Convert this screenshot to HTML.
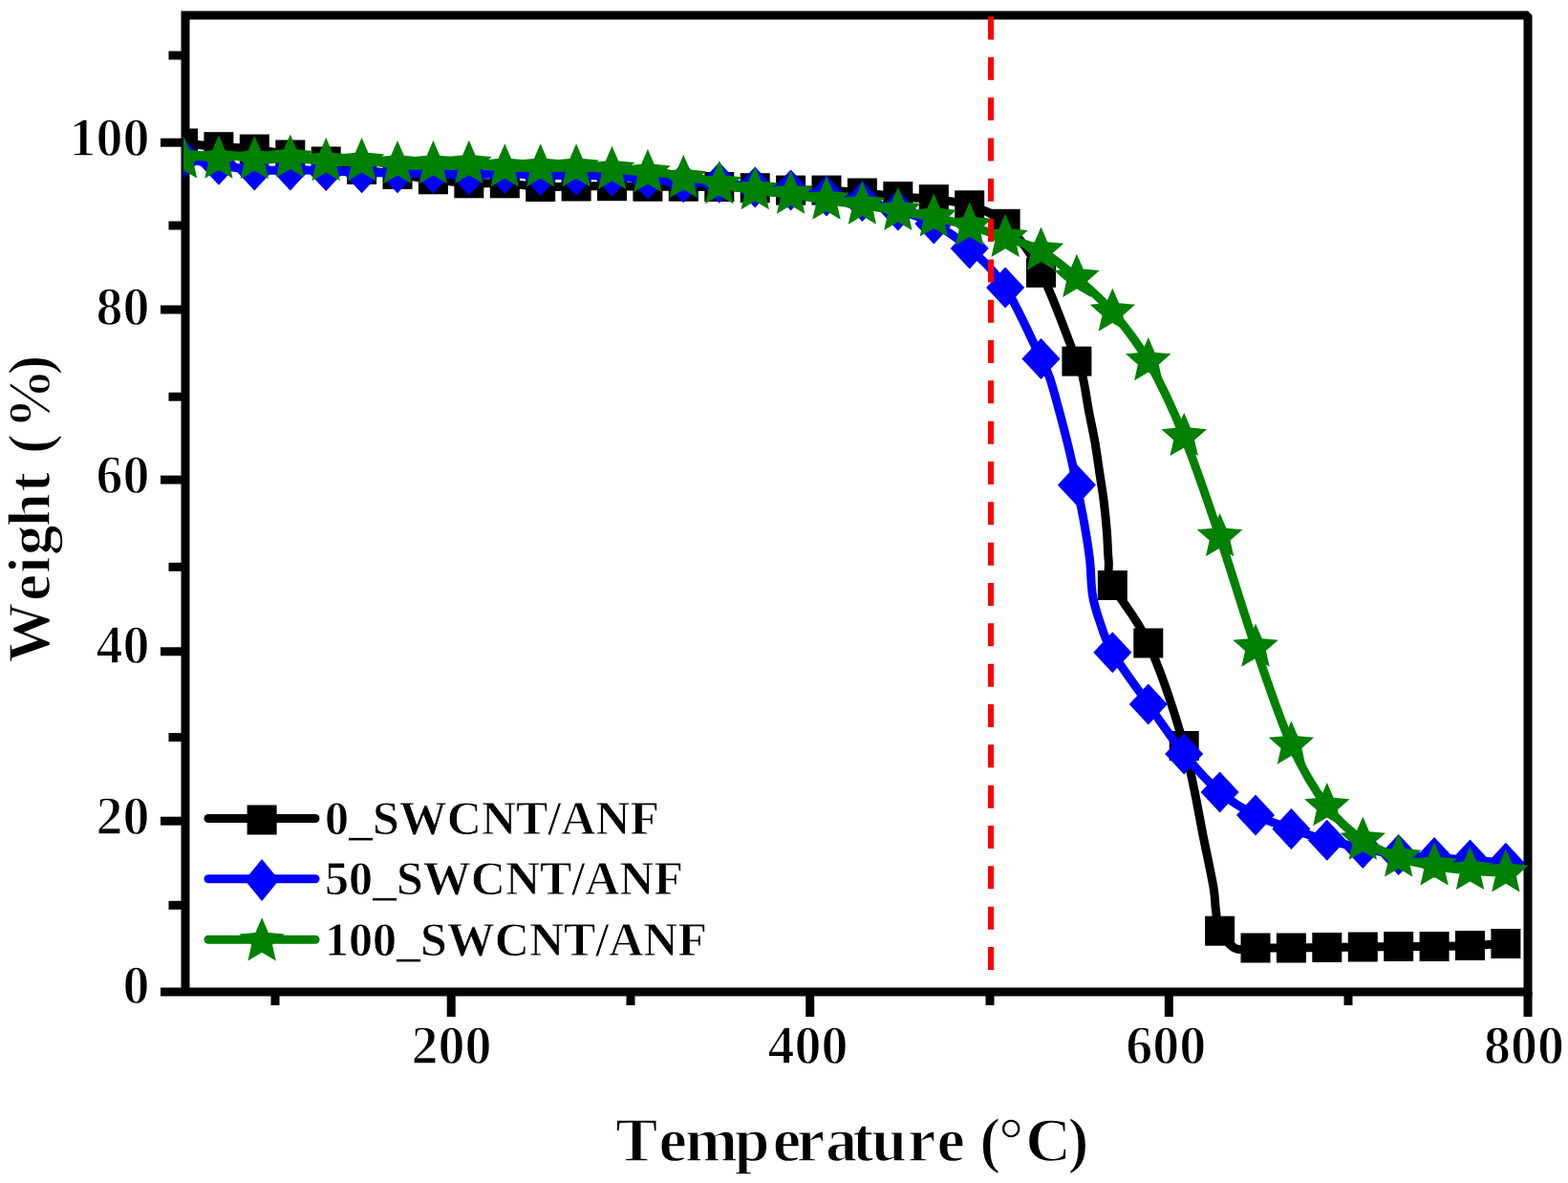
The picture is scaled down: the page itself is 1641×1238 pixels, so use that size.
<!DOCTYPE html><html><head><meta charset="utf-8"><style>html,body{margin:0;padding:0;background:#fff;}svg{display:block;}text{font-family:"Liberation Serif","Times New Roman",serif;font-weight:bold;fill:#000;stroke:#fff;stroke-width:1.4px;paint-order:fill;}</style></head><body>
<svg width="1641" height="1238" viewBox="0 0 1641 1238">
<rect width="1641" height="1238" fill="#fff"/>
<defs><clipPath id="pc"><rect x="192" y="0" width="1407" height="1238"/></clipPath></defs>
<g stroke="#000" stroke-width="9" fill="none"><line x1="168.0" y1="1038.0" x2="194" y2="1038.0"/><line x1="176.5" y1="947.3" x2="194" y2="947.3"/><line x1="168.0" y1="859.2" x2="194" y2="859.2"/><line x1="176.5" y1="771.6" x2="194" y2="771.6"/><line x1="168.0" y1="681.8" x2="194" y2="681.8"/><line x1="176.5" y1="593.3" x2="194" y2="593.3"/><line x1="168.0" y1="502.1" x2="194" y2="502.1"/><line x1="176.5" y1="415.2" x2="194" y2="415.2"/><line x1="168.0" y1="324.0" x2="194" y2="324.0"/><line x1="176.5" y1="236.0" x2="194" y2="236.0"/><line x1="168.0" y1="149.2" x2="194" y2="149.2"/><line x1="176.5" y1="58.0" x2="194" y2="58.0"/><line x1="288.0" y1="1038" x2="288.0" y2="1052.0"/><line x1="472.2" y1="1038" x2="472.2" y2="1064.0"/><line x1="660.0" y1="1038" x2="660.0" y2="1052.0"/><line x1="847.7" y1="1038" x2="847.7" y2="1064.0"/><line x1="1036.0" y1="1038" x2="1036.0" y2="1052.0"/><line x1="1223.3" y1="1038" x2="1223.3" y2="1064.0"/><line x1="1411.0" y1="1038" x2="1411.0" y2="1052.0"/><line x1="1599.0" y1="1038" x2="1599.0" y2="1064.0"/></g>
<path d="M194,1038 L194,16 L1599,16 M1599,16 L1599,1038 L194,1038" fill="none" stroke="#000" stroke-width="9" stroke-linejoin="miter"/>
<polygon points="1599,11.5 1603.5,16 1599,16" fill="#000"/>
<g clip-path="url(#pc)">
<path d="M191.5,150.0 C197.7,150.6 216.4,152.7 228.9,153.7 C241.4,154.7 253.9,154.7 266.3,156.1 C278.8,157.5 291.3,159.8 303.8,162.0 C316.2,164.2 328.7,166.4 341.2,169.0 C353.6,171.6 366.1,175.2 378.6,177.4 C391.1,179.7 403.5,180.8 416.0,182.5 C428.5,184.2 440.9,186.2 453.4,187.8 C465.9,189.4 478.4,191.1 490.8,191.8 C503.3,192.5 515.8,191.2 528.3,191.8 C540.7,192.4 553.2,195.0 565.7,195.5 C578.1,196.0 590.6,195.1 603.1,195.0 C615.6,194.9 628.0,194.7 640.5,194.7 C653.0,194.7 665.4,195.1 677.9,195.2 C690.4,195.3 702.9,195.1 715.3,195.2 C727.8,195.2 740.3,195.2 752.8,195.5 C765.2,195.8 777.7,196.1 790.2,196.7 C802.6,197.3 815.1,198.7 827.6,199.1 C840.1,199.5 852.5,198.6 865.0,199.1 C877.5,199.6 890.0,200.9 902.4,202.0 C914.9,203.1 927.4,204.5 939.8,205.6 C952.3,206.7 964.8,207.2 977.3,208.7 C989.7,210.2 1002.2,210.5 1014.7,214.8 C1027.1,219.1 1039.6,222.6 1052.1,234.3 C1064.6,246.1 1077.0,261.3 1089.5,285.3 C1102.0,309.3 1119.6,359.7 1126.9,378.1 C1134.3,396.6 1131.5,387.6 1133.5,396.0 C1135.5,404.4 1137.2,417.7 1139.2,428.5 C1141.2,439.3 1143.7,450.1 1145.6,460.8 C1147.5,471.6 1148.9,482.2 1150.5,493.0 C1152.1,503.8 1154.0,514.6 1155.3,525.4 C1156.6,536.2 1157.7,547.5 1158.5,557.7 C1159.3,567.9 1159.2,577.5 1160.2,586.6 C1161.2,595.7 1157.4,598.1 1164.3,612.5 C1171.3,626.9 1189.3,645.0 1201.8,673.0 C1214.2,701.0 1229.4,746.0 1239.2,780.5 C1248.9,815.0 1255.1,855.3 1260.2,880.0 C1265.3,904.7 1268.0,916.6 1270.0,928.8 C1272.0,941.0 1271.4,945.4 1272.5,953.0 C1273.6,960.6 1273.2,967.6 1276.6,974.2 C1280.0,980.8 1286.8,989.5 1293.0,992.5 C1299.2,995.5 1304.3,992.1 1314.0,992.0 C1323.7,991.9 1339.0,992.1 1351.4,992.0 C1363.9,991.9 1376.4,991.7 1388.8,991.5 C1401.3,991.3 1413.8,991.2 1426.3,991.0 C1438.7,990.8 1451.2,990.6 1463.7,990.5 C1476.2,990.4 1488.6,990.7 1501.1,990.5 C1513.6,990.3 1526.0,990.0 1538.5,989.5 C1551.0,989.0 1569.7,987.8 1575.9,987.5" fill="none" stroke="#000" stroke-width="9" stroke-linejoin="round"/>
<g fill="#000"><rect x="176.0" y="134.5" width="31.0" height="31.0"/><rect x="213.4" y="138.2" width="31.0" height="31.0"/><rect x="250.8" y="140.6" width="31.0" height="31.0"/><rect x="288.3" y="146.5" width="31.0" height="31.0"/><rect x="325.7" y="153.5" width="31.0" height="31.0"/><rect x="363.1" y="161.9" width="31.0" height="31.0"/><rect x="400.5" y="167.0" width="31.0" height="31.0"/><rect x="437.9" y="172.3" width="31.0" height="31.0"/><rect x="475.3" y="176.3" width="31.0" height="31.0"/><rect x="512.8" y="176.3" width="31.0" height="31.0"/><rect x="550.2" y="180.0" width="31.0" height="31.0"/><rect x="587.6" y="179.5" width="31.0" height="31.0"/><rect x="625.0" y="179.2" width="31.0" height="31.0"/><rect x="662.4" y="179.7" width="31.0" height="31.0"/><rect x="699.8" y="179.7" width="31.0" height="31.0"/><rect x="737.3" y="180.0" width="31.0" height="31.0"/><rect x="774.7" y="181.2" width="31.0" height="31.0"/><rect x="812.1" y="183.6" width="31.0" height="31.0"/><rect x="849.5" y="183.6" width="31.0" height="31.0"/><rect x="886.9" y="186.5" width="31.0" height="31.0"/><rect x="924.3" y="190.1" width="31.0" height="31.0"/><rect x="961.8" y="193.2" width="31.0" height="31.0"/><rect x="999.2" y="199.3" width="31.0" height="31.0"/><rect x="1036.6" y="218.8" width="31.0" height="31.0"/><rect x="1074.0" y="269.8" width="31.0" height="31.0"/><rect x="1111.4" y="362.6" width="31.0" height="31.0"/><rect x="1148.8" y="597.0" width="31.0" height="31.0"/><rect x="1186.3" y="657.5" width="31.0" height="31.0"/><rect x="1223.7" y="765.0" width="31.0" height="31.0"/><rect x="1261.1" y="958.7" width="31.0" height="31.0"/><rect x="1298.5" y="976.5" width="31.0" height="31.0"/><rect x="1335.9" y="976.5" width="31.0" height="31.0"/><rect x="1373.3" y="976.0" width="31.0" height="31.0"/><rect x="1410.8" y="975.5" width="31.0" height="31.0"/><rect x="1448.2" y="975.0" width="31.0" height="31.0"/><rect x="1485.6" y="975.0" width="31.0" height="31.0"/><rect x="1523.0" y="974.0" width="31.0" height="31.0"/><rect x="1560.4" y="972.0" width="31.0" height="31.0"/></g>

<path d="M191.5,165.5 C197.7,166.6 216.4,170.2 228.9,172.3 C241.4,174.4 253.9,177.1 266.3,178.0 C278.8,178.9 291.3,177.9 303.8,178.0 C316.2,178.1 328.7,178.0 341.2,178.4 C353.6,178.8 366.1,180.3 378.6,180.7 C391.1,181.1 403.5,180.6 416.0,180.7 C428.5,180.8 440.9,180.8 453.4,181.2 C465.9,181.6 478.4,182.9 490.8,183.0 C503.3,183.1 515.8,181.4 528.3,181.5 C540.7,181.6 553.2,183.2 565.7,183.5 C578.1,183.8 590.6,183.3 603.1,183.4 C615.6,183.5 628.0,183.7 640.5,184.3 C653.0,185.0 665.4,186.2 677.9,187.3 C690.4,188.4 702.9,190.0 715.3,190.7 C727.8,191.3 740.3,190.3 752.8,191.2 C765.2,192.1 777.7,194.7 790.2,196.0 C802.6,197.3 815.1,197.5 827.6,199.0 C840.1,200.5 852.5,203.1 865.0,205.0 C877.5,206.9 890.0,208.0 902.4,210.5 C914.9,213.0 927.4,216.1 939.8,220.0 C952.3,223.9 964.8,227.3 977.3,234.0 C989.7,240.7 1002.2,248.8 1014.7,260.0 C1027.1,271.2 1039.6,281.8 1052.1,301.0 C1064.6,320.2 1081.7,359.6 1089.5,375.4 C1097.3,391.2 1095.7,387.1 1098.8,396.0 C1101.9,404.9 1105.1,417.7 1108.1,428.5 C1111.0,439.3 1114.2,451.4 1116.5,460.8 C1118.8,470.2 1120.5,477.2 1122.2,485.0 C1123.9,492.8 1124.7,496.6 1126.9,507.6 C1129.1,518.6 1133.0,537.8 1135.3,551.0 C1137.6,564.2 1139.3,574.8 1140.6,586.6 C1141.9,598.4 1141.7,611.6 1143.3,622.0 C1144.9,632.4 1146.9,638.6 1150.4,648.7 C1153.9,658.8 1155.8,668.1 1164.3,682.8 C1172.9,697.5 1189.3,719.2 1201.8,736.9 C1214.2,754.6 1226.7,773.6 1239.2,788.9 C1251.6,804.2 1264.1,818.2 1276.6,828.9 C1289.1,839.6 1301.5,846.7 1314.0,853.1 C1326.5,859.5 1339.0,863.1 1351.4,867.5 C1363.9,871.9 1376.4,875.9 1388.8,879.2 C1401.3,882.5 1413.8,885.0 1426.3,887.5 C1438.7,890.0 1451.2,892.8 1463.7,894.5 C1476.2,896.2 1488.6,896.7 1501.1,897.6 C1513.6,898.5 1526.0,899.1 1538.5,900.0 C1551.0,900.9 1569.7,902.7 1575.9,903.2" fill="none" stroke="#0000ff" stroke-width="9" stroke-linejoin="round"/>
<g fill="#0000ff"><path d="M191.5,144.0L211.5,165.5L191.5,187.0L171.5,165.5Z"/><path d="M228.9,150.8L248.9,172.3L228.9,193.8L208.9,172.3Z"/><path d="M266.3,156.5L286.3,178.0L266.3,199.5L246.3,178.0Z"/><path d="M303.8,156.5L323.8,178.0L303.8,199.5L283.8,178.0Z"/><path d="M341.2,156.9L361.2,178.4L341.2,199.9L321.2,178.4Z"/><path d="M378.6,159.2L398.6,180.7L378.6,202.2L358.6,180.7Z"/><path d="M416.0,159.2L436.0,180.7L416.0,202.2L396.0,180.7Z"/><path d="M453.4,159.7L473.4,181.2L453.4,202.7L433.4,181.2Z"/><path d="M490.8,161.5L510.8,183.0L490.8,204.5L470.8,183.0Z"/><path d="M528.3,160.0L548.3,181.5L528.3,203.0L508.3,181.5Z"/><path d="M565.7,162.0L585.7,183.5L565.7,205.0L545.7,183.5Z"/><path d="M603.1,161.9L623.1,183.4L603.1,204.9L583.1,183.4Z"/><path d="M640.5,162.8L660.5,184.3L640.5,205.8L620.5,184.3Z"/><path d="M677.9,165.8L697.9,187.3L677.9,208.8L657.9,187.3Z"/><path d="M715.3,169.2L735.3,190.7L715.3,212.2L695.3,190.7Z"/><path d="M752.8,169.7L772.8,191.2L752.8,212.7L732.8,191.2Z"/><path d="M790.2,174.5L810.2,196.0L790.2,217.5L770.2,196.0Z"/><path d="M827.6,177.5L847.6,199.0L827.6,220.5L807.6,199.0Z"/><path d="M865.0,183.5L885.0,205.0L865.0,226.5L845.0,205.0Z"/><path d="M902.4,189.0L922.4,210.5L902.4,232.0L882.4,210.5Z"/><path d="M939.8,198.5L959.8,220.0L939.8,241.5L919.8,220.0Z"/><path d="M977.3,212.5L997.3,234.0L977.3,255.5L957.3,234.0Z"/><path d="M1014.7,238.5L1034.7,260.0L1014.7,281.5L994.7,260.0Z"/><path d="M1052.1,279.5L1072.1,301.0L1052.1,322.5L1032.1,301.0Z"/><path d="M1089.5,353.9L1109.5,375.4L1089.5,396.9L1069.5,375.4Z"/><path d="M1126.9,486.1L1146.9,507.6L1126.9,529.1L1106.9,507.6Z"/><path d="M1164.3,661.3L1184.3,682.8L1164.3,704.3L1144.3,682.8Z"/><path d="M1201.8,715.4L1221.8,736.9L1201.8,758.4L1181.8,736.9Z"/><path d="M1239.2,767.4L1259.2,788.9L1239.2,810.4L1219.2,788.9Z"/><path d="M1276.6,807.4L1296.6,828.9L1276.6,850.4L1256.6,828.9Z"/><path d="M1314.0,831.6L1334.0,853.1L1314.0,874.6L1294.0,853.1Z"/><path d="M1351.4,846.0L1371.4,867.5L1351.4,889.0L1331.4,867.5Z"/><path d="M1388.8,857.7L1408.8,879.2L1388.8,900.7L1368.8,879.2Z"/><path d="M1426.3,866.0L1446.3,887.5L1426.3,909.0L1406.3,887.5Z"/><path d="M1463.7,873.0L1483.7,894.5L1463.7,916.0L1443.7,894.5Z"/><path d="M1501.1,876.1L1521.1,897.6L1501.1,919.1L1481.1,897.6Z"/><path d="M1538.5,878.5L1558.5,900.0L1538.5,921.5L1518.5,900.0Z"/><path d="M1575.9,881.7L1595.9,903.2L1575.9,924.7L1555.9,903.2Z"/></g>

<path d="M191.5,166.4 C194.6,165.9 204.0,163.4 210.2,163.4 C216.4,163.4 222.7,166.6 228.9,166.6 C235.2,166.6 241.4,163.3 247.6,163.4 C253.9,163.5 260.1,166.6 266.3,167.1 C272.6,167.6 278.8,166.8 285.0,166.5 C291.3,166.2 297.5,165.5 303.8,165.6 C310.0,165.7 316.2,166.2 322.5,166.8 C328.7,167.4 334.9,168.7 341.2,169.1 C347.4,169.5 353.6,169.4 359.9,169.4 C366.1,169.4 372.3,169.0 378.6,169.1 C384.8,169.2 391.0,169.4 397.3,169.9 C403.5,170.4 409.8,171.5 416.0,172.1 C422.2,172.7 428.5,173.3 434.7,173.3 C440.9,173.3 447.2,172.1 453.4,172.1 C459.7,172.1 465.9,173.4 472.1,173.4 C478.4,173.4 484.6,171.8 490.8,171.8 C497.1,171.8 503.3,172.9 509.5,173.5 C515.8,174.1 522.0,174.9 528.3,175.2 C534.5,175.5 540.7,175.5 547.0,175.5 C553.2,175.5 559.4,175.2 565.7,175.2 C571.9,175.2 578.1,175.5 584.4,175.5 C590.6,175.5 596.9,175.2 603.1,175.2 C609.3,175.2 615.6,175.1 621.8,175.5 C628.0,175.9 634.3,177.2 640.5,177.7 C646.7,178.2 653.0,177.8 659.2,178.4 C665.4,179.0 671.7,180.6 677.9,181.1 C684.2,181.6 690.4,180.3 696.6,181.3 C702.9,182.3 709.1,185.9 715.3,186.9 C721.6,187.9 727.8,186.2 734.0,187.2 C740.3,188.2 743.4,191.0 752.8,193.0 C762.1,195.0 777.7,197.2 790.2,199.0 C802.6,200.8 815.1,201.8 827.6,203.5 C840.1,205.2 852.5,207.7 865.0,209.5 C877.5,211.3 890.0,212.7 902.4,214.6 C914.9,216.5 927.4,218.6 939.8,220.7 C952.3,222.8 964.8,224.8 977.3,227.4 C989.7,230.0 1002.2,232.9 1014.7,236.5 C1027.1,240.1 1039.6,244.4 1052.1,248.7 C1064.6,253.0 1077.0,255.5 1089.5,262.5 C1102.0,269.5 1114.5,280.1 1126.9,290.8 C1139.4,301.5 1151.9,312.0 1164.3,326.5 C1176.8,341.0 1189.3,356.3 1201.8,378.0 C1214.2,399.7 1226.7,426.2 1239.2,456.9 C1251.6,487.6 1264.1,525.2 1276.6,562.0 C1289.1,598.8 1301.5,641.2 1314.0,677.5 C1326.5,713.8 1339.0,751.8 1351.4,779.5 C1363.9,807.2 1376.4,827.3 1388.8,844.0 C1401.3,860.7 1413.8,870.6 1426.3,879.5 C1438.7,888.4 1451.2,892.9 1463.7,897.4 C1476.2,901.9 1488.6,904.0 1501.1,906.2 C1513.6,908.5 1526.0,909.7 1538.5,910.9 C1551.0,912.1 1569.7,912.9 1575.9,913.3" fill="none" stroke="#008000" stroke-width="9" stroke-linejoin="round"/>
<g fill="#008000"><polygon points="191.5,141.4 198.3,157.1 215.3,158.7 202.4,170.0 206.2,186.6 191.5,177.9 176.8,186.6 180.6,170.0 167.7,158.7 184.7,157.1"/><polygon points="228.9,141.6 235.7,157.3 252.7,158.9 239.9,170.2 243.6,186.8 228.9,178.1 214.2,186.8 218.0,170.2 205.1,158.9 222.2,157.3"/><polygon points="266.3,142.1 273.1,157.8 290.1,159.4 277.3,170.7 281.0,187.3 266.3,178.6 251.6,187.3 255.4,170.7 242.6,159.4 259.6,157.8"/><polygon points="303.8,140.6 310.5,156.3 327.5,157.9 314.7,169.2 318.4,185.8 303.8,177.1 289.1,185.8 292.8,169.2 280.0,157.9 297.0,156.3"/><polygon points="341.2,144.1 347.9,159.8 364.9,161.4 352.1,172.7 355.9,189.3 341.2,180.6 326.5,189.3 330.2,172.7 317.4,161.4 334.4,159.8"/><polygon points="378.6,144.1 385.3,159.8 402.4,161.4 389.5,172.7 393.3,189.3 378.6,180.6 363.9,189.3 367.6,172.7 354.8,161.4 371.8,159.8"/><polygon points="416.0,147.1 422.8,162.8 439.8,164.4 426.9,175.7 430.7,192.3 416.0,183.6 401.3,192.3 405.1,175.7 392.2,164.4 409.2,162.8"/><polygon points="453.4,147.1 460.2,162.8 477.2,164.4 464.4,175.7 468.1,192.3 453.4,183.6 438.7,192.3 442.5,175.7 429.6,164.4 446.7,162.8"/><polygon points="490.8,146.8 497.6,162.5 514.6,164.1 501.8,175.4 505.5,192.0 490.8,183.3 476.1,192.0 479.9,175.4 467.1,164.1 484.1,162.5"/><polygon points="528.3,150.2 535.0,165.9 552.0,167.5 539.2,178.8 542.9,195.4 528.3,186.7 513.6,195.4 517.3,178.8 504.5,167.5 521.5,165.9"/><polygon points="565.7,150.2 572.4,165.9 589.4,167.5 576.6,178.8 580.4,195.4 565.7,186.7 551.0,195.4 554.7,178.8 541.9,167.5 558.9,165.9"/><polygon points="603.1,150.2 609.8,165.9 626.9,167.5 614.0,178.8 617.8,195.4 603.1,186.7 588.4,195.4 592.1,178.8 579.3,167.5 596.3,165.9"/><polygon points="640.5,152.7 647.3,168.4 664.3,170.0 651.4,181.3 655.2,197.9 640.5,189.2 625.8,197.9 629.6,181.3 616.7,170.0 633.7,168.4"/><polygon points="677.9,156.1 684.7,171.8 701.7,173.4 688.9,184.7 692.6,201.3 677.9,192.6 663.2,201.3 667.0,184.7 654.1,173.4 671.2,171.8"/><polygon points="715.3,161.9 722.1,177.6 739.1,179.2 726.3,190.5 730.0,207.1 715.3,198.4 700.6,207.1 704.4,190.5 691.6,179.2 708.6,177.6"/><polygon points="752.8,168.0 759.5,183.7 776.5,185.3 763.7,196.6 767.4,213.2 752.8,204.5 738.1,213.2 741.8,196.6 729.0,185.3 746.0,183.7"/><polygon points="790.2,174.0 796.9,189.7 813.9,191.3 801.1,202.6 804.9,219.2 790.2,210.5 775.5,219.2 779.2,202.6 766.4,191.3 783.4,189.7"/><polygon points="827.6,178.5 834.3,194.2 851.4,195.8 838.5,207.1 842.3,223.7 827.6,215.0 812.9,223.7 816.7,207.1 803.8,195.8 820.8,194.2"/><polygon points="865.0,184.5 871.8,200.2 888.8,201.8 875.9,213.1 879.7,229.7 865.0,221.0 850.3,229.7 854.1,213.1 841.2,201.8 858.2,200.2"/><polygon points="902.4,189.6 909.2,205.3 926.2,206.9 913.4,218.2 917.1,234.8 902.4,226.1 887.7,234.8 891.5,218.2 878.6,206.9 895.7,205.3"/><polygon points="939.8,195.7 946.6,211.4 963.6,213.0 950.8,224.3 954.5,240.9 939.8,232.2 925.1,240.9 928.9,224.3 916.1,213.0 933.1,211.4"/><polygon points="977.3,202.4 984.0,218.1 1001.0,219.7 988.2,231.0 992.0,247.6 977.3,238.9 962.6,247.6 966.3,231.0 953.5,219.7 970.5,218.1"/><polygon points="1014.7,211.5 1021.4,227.2 1038.5,228.8 1025.6,240.1 1029.4,256.7 1014.7,248.0 1000.0,256.7 1003.7,240.1 990.9,228.8 1007.9,227.2"/><polygon points="1052.1,223.7 1058.9,239.4 1075.9,241.0 1063.0,252.3 1066.8,268.9 1052.1,260.2 1037.4,268.9 1041.2,252.3 1028.3,241.0 1045.3,239.4"/><polygon points="1089.5,237.5 1096.3,253.2 1113.3,254.8 1100.4,266.1 1104.2,282.7 1089.5,274.0 1074.8,282.7 1078.6,266.1 1065.7,254.8 1082.7,253.2"/><polygon points="1126.9,265.8 1133.7,281.5 1150.7,283.1 1137.9,294.4 1141.6,311.0 1126.9,302.3 1112.2,311.0 1116.0,294.4 1103.1,283.1 1120.2,281.5"/><polygon points="1164.3,301.5 1171.1,317.2 1188.1,318.8 1175.3,330.1 1179.0,346.7 1164.3,338.0 1149.6,346.7 1153.4,330.1 1140.6,318.8 1157.6,317.2"/><polygon points="1201.8,353.0 1208.5,368.7 1225.5,370.3 1212.7,381.6 1216.5,398.2 1201.8,389.5 1187.1,398.2 1190.8,381.6 1178.0,370.3 1195.0,368.7"/><polygon points="1239.2,431.9 1245.9,447.6 1263.0,449.2 1250.1,460.5 1253.9,477.1 1239.2,468.4 1224.5,477.1 1228.2,460.5 1215.4,449.2 1232.4,447.6"/><polygon points="1276.6,537.0 1283.4,552.7 1300.4,554.3 1287.5,565.6 1291.3,582.2 1276.6,573.5 1261.9,582.2 1265.7,565.6 1252.8,554.3 1269.8,552.7"/><polygon points="1314.0,652.5 1320.8,668.2 1337.8,669.8 1324.9,681.1 1328.7,697.7 1314.0,689.0 1299.3,697.7 1303.1,681.1 1290.2,669.8 1307.3,668.2"/><polygon points="1351.4,754.5 1358.2,770.2 1375.2,771.8 1362.4,783.1 1366.1,799.7 1351.4,791.0 1336.7,799.7 1340.5,783.1 1327.7,771.8 1344.7,770.2"/><polygon points="1388.8,819.0 1395.6,834.7 1412.6,836.3 1399.8,847.6 1403.5,864.2 1388.8,855.5 1374.1,864.2 1377.9,847.6 1365.1,836.3 1382.1,834.7"/><polygon points="1426.3,854.5 1433.0,870.2 1450.0,871.8 1437.2,883.1 1441.0,899.7 1426.3,891.0 1411.6,899.7 1415.3,883.1 1402.5,871.8 1419.5,870.2"/><polygon points="1463.7,872.4 1470.4,888.1 1487.5,889.7 1474.6,901.0 1478.4,917.6 1463.7,908.9 1449.0,917.6 1452.7,901.0 1439.9,889.7 1456.9,888.1"/><polygon points="1501.1,881.2 1507.9,896.9 1524.9,898.5 1512.0,909.8 1515.8,926.4 1501.1,917.7 1486.4,926.4 1490.2,909.8 1477.3,898.5 1494.3,896.9"/><polygon points="1538.5,885.9 1545.3,901.6 1562.3,903.2 1549.4,914.5 1553.2,931.1 1538.5,922.4 1523.8,931.1 1527.6,914.5 1514.7,903.2 1531.8,901.6"/><polygon points="1575.9,888.3 1582.7,904.0 1599.7,905.6 1586.9,916.9 1590.6,933.5 1575.9,924.8 1561.2,933.5 1565.0,916.9 1552.2,905.6 1569.2,904.0"/></g>

</g>
<line x1="1037" y1="17.4" x2="1037" y2="1033" stroke="#ff0000" stroke-width="6" stroke-dasharray="24 18.33"/>
<text x="156.5" y="162.6" font-size="56" text-anchor="end">100</text><text x="156.5" y="340.2" font-size="56" text-anchor="end">80</text><text x="156.5" y="516.0" font-size="56" text-anchor="end">60</text><text x="156.5" y="694.4" font-size="56" text-anchor="end">40</text><text x="156.5" y="873.2" font-size="56" text-anchor="end">20</text><text x="156.5" y="1050.4" font-size="56" text-anchor="end">0</text><text x="472.6" y="1112.6" font-size="56" text-anchor="middle">200</text><text x="845.5" y="1112.6" font-size="56" text-anchor="middle">400</text><text x="1220.3" y="1112.6" font-size="56" text-anchor="middle">600</text><text x="1595.0" y="1112.6" font-size="56" text-anchor="middle">800</text>
<text x="644.15 689.60 717.00 768.65 808.85 833.75 863.90 892.35 912.30 950.10 980.45 1010.00 1025.20 1045.00 1073.20 1117.40" y="1214.9" font-size="66">Temperature (°C)</text>
<text transform="translate(52.3,534.5) rotate(-90)" x="-158.90 -94.55 -65.40 -46.45 -16.85 19.40 40.00 59.55 85.75 141.95" y="0" font-size="63">Weight (%)</text>
<line x1="218" y1="856.5" x2="330" y2="856.5" stroke="#000" stroke-width="9" stroke-linecap="round"/><g fill="#000"><rect x="258.6" y="842.5" width="31.0" height="31.0"/></g><text x="340" y="872.5" font-size="50" style="stroke-width:0.8px">0_SWCNT/ANF</text><line x1="218" y1="919.7" x2="330" y2="919.7" stroke="#0000ff" stroke-width="9" stroke-linecap="round"/><g fill="#0000ff"><path d="M274.1,898.9L292.1,920.9L274.1,942.9L256.1,920.9Z"/></g><text x="340" y="936.3" font-size="50" style="stroke-width:0.8px">50_SWCNT/ANF</text><line x1="218" y1="983.2" x2="330" y2="983.2" stroke="#008000" stroke-width="9" stroke-linecap="round"/><g fill="#008000"><polygon points="274.1,960.2 280.9,975.9 297.9,977.5 285.0,988.8 288.8,1005.4 274.1,996.7 259.4,1005.4 263.2,988.8 250.3,977.5 267.3,975.9"/></g><text x="340" y="999.7" font-size="50" style="stroke-width:0.8px">100_SWCNT/ANF</text>
</svg></body></html>
